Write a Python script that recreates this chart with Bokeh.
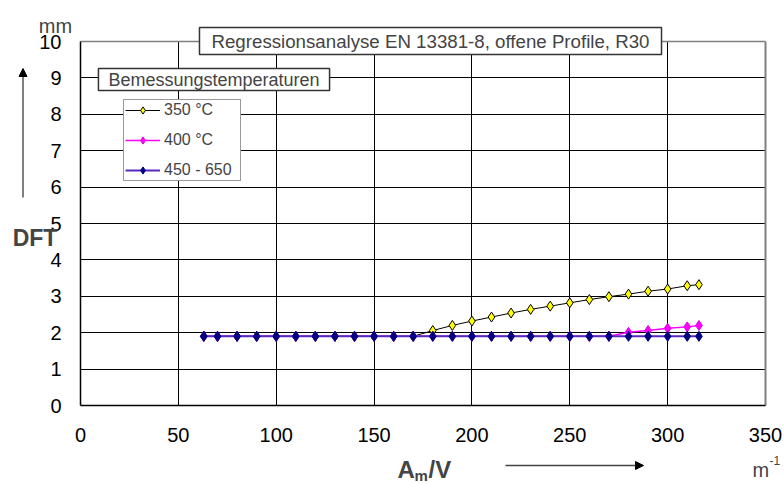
from bokeh.plotting import figure
from bokeh.models import (Range1d, FixedTicker, Label, Arrow, NormalHead,
                          Legend, LegendItem, LinearAxis, Grid)
from bokeh.embed import file_html
from bokeh.resources import INLINE

# ---- data ----
am_v = [63, 70, 80, 90, 100, 110, 120, 130, 140, 150, 160, 170, 180, 190,
        200, 210, 220, 230, 240, 250, 260, 270, 280, 290, 300, 310, 316]
dft_350 = [1.9, 1.9, 1.9, 1.9, 1.9, 1.9, 1.9, 1.9, 1.9, 1.9, 1.9, 1.9, 2.06,
           2.2, 2.32, 2.43, 2.54, 2.64, 2.73, 2.82, 2.91, 2.99, 3.06, 3.14,
           3.2, 3.29, 3.32]
dft_400 = [1.9, 1.9, 1.9, 1.9, 1.9, 1.9, 1.9, 1.9, 1.9, 1.9, 1.9, 1.9, 1.9,
           1.9, 1.9, 1.9, 1.9, 1.9, 1.9, 1.9, 1.9, 1.9, 2.01, 2.06, 2.12,
           2.16, 2.2]
dft_450_650 = [1.9] * 27
series_names = ["350 °C", "400 °C", "450 - 650"]
x_ticks = [0, 50, 100, 150, 200, 250, 300, 350]
y_ticks = [0, 1, 2, 3, 4, 5, 6, 7, 8, 9, 10]
inner_x = [50, 100, 150, 200, 250, 300]
inner_y = [1, 2, 3, 4, 5, 6, 7, 8, 9]

FONT = "Liberation Sans"
W, H = 784, 483
# plot area in canvas pixels
L, R, T, B = 80, 765, 41, 405
xs = (R - L) / 350.0
ys = (B - T) / 10.0

p = figure(width=W, height=H, output_backend="svg", toolbar_location=None,
           x_axis_type=None, y_axis_type=None,
           x_range=Range1d(-L / xs, 350 + (W - R) / xs),
           y_range=Range1d(-(H - B) / ys, 10 + T / ys),
           min_border=0, min_border_left=0, min_border_right=0,
           min_border_top=0, min_border_bottom=0)
p.background_fill_color = "white"
p.border_fill_color = "white"
p.outline_line_color = None

# grid lines limited to the plot area
p.add_layout(Grid(dimension=0, ticker=FixedTicker(ticks=inner_x),
                  bounds=(0, 350), cross_bounds=(0, 10),
                  grid_line_color="black", grid_line_width=1))
p.add_layout(Grid(dimension=1, ticker=FixedTicker(ticks=inner_y),
                  bounds=(0, 10), cross_bounds=(0, 350),
                  grid_line_color="black", grid_line_width=1))
p.add_layout(Grid(dimension=0, ticker=FixedTicker(ticks=[350]),
                  bounds=(0, 350), cross_bounds=(0, 10),
                  grid_line_color="#808080", grid_line_width=2))
p.add_layout(Grid(dimension=1, ticker=FixedTicker(ticks=[10]),
                  bounds=(0, 10), cross_bounds=(0, 350),
                  grid_line_color="#808080", grid_line_width=1.5))

xaxis = LinearAxis(fixed_location=0, bounds=(0, 350),
                   ticker=FixedTicker(ticks=x_ticks))
yaxis = LinearAxis(fixed_location=0, bounds=(0, 10),
                   ticker=FixedTicker(ticks=y_ticks))
for ax in (xaxis, yaxis):
    ax.major_tick_line_color = None
    ax.minor_tick_line_color = None
    ax.axis_line_color = "black"
    ax.axis_line_width = 1.5
    ax.major_label_text_font = FONT
    ax.major_label_text_font_size = "20px"
    ax.major_label_text_color = "black"
xaxis.major_label_standoff = 16
yaxis.major_label_standoff = 13
p.add_layout(xaxis, "below")
p.add_layout(yaxis, "left")

# series
l1 = p.line(am_v, dft_350, line_color="black", line_width=1)
s1 = p.scatter(am_v, dft_350, marker="diamond", size=10, fill_color="#FFFF00",
               line_color="black", line_width=1)
l2 = p.line(am_v, dft_400, line_color="#FF00FF", line_width=1.5)
s2 = p.scatter(am_v, dft_400, marker="diamond", size=10, fill_color="#FF00FF",
               line_color="#E000E0", line_width=1)
l3 = p.line(am_v, dft_450_650, line_color="#5a28c0", line_width=2)
s3 = p.scatter(am_v, dft_450_650, marker="diamond", size=10,
               fill_color="#000080", line_color="#000080", line_width=1)

legend = Legend(items=[LegendItem(label=series_names[0], renderers=[l1, s1]),
                       LegendItem(label=series_names[1], renderers=[l2, s2]),
                       LegendItem(label=series_names[2], renderers=[l3, s3])],
                location=(123, H - 181), orientation="vertical",
                label_text_font=FONT, label_text_font_size="16px",
                glyph_width=35, glyph_height=18, label_height=18,
                label_width=75, label_standoff=4, spacing=12, padding=1,
                margin=0, border_line_color="#333333", border_line_width=1.5,
                background_fill_color="white", background_fill_alpha=1)
p.add_layout(legend, "center")

# boxed titles
p.add_layout(Label(x=430, y=H - 40.5, x_units="screen", y_units="screen",
                   text="Regressionsanalyse EN 13381-8, offene Profile, R30",
                   text_font=FONT, text_font_size="18.7px",
                   text_align="center", text_baseline="middle",
                   background_fill_color="white",
                   border_line_color="#333333", border_line_width=1.5,
                   padding=(12, 3)))
p.add_layout(Label(x=213.5, y=H - 79, x_units="screen", y_units="screen",
                   text="Bemessungstemperaturen", text_font=FONT,
                   text_font_size="18px", text_align="center",
                   text_baseline="middle", background_fill_color="white",
                   border_line_color="#333333", border_line_width=1.5,
                   padding=(10, 1)))

# axis annotations
p.add_layout(Label(x=55, y=H - 25, x_units="screen", y_units="screen",
                   text="mm", text_font=FONT, text_font_size="20px",
                   text_align="center", text_baseline="alphabetic"))
p.add_layout(Label(x=34.5, y=H - 237, x_units="screen", y_units="screen",
                   text="DFT", text_font=FONT, text_font_size="23px",
                   text_font_style="bold", text_align="center",
                   text_baseline="middle"))
p.add_layout(Label(x=397, y=H - 469, x_units="screen", y_units="screen",
                   text="A", text_font=FONT, text_font_size="24px",
                   text_font_style="bold", text_align="left",
                   text_baseline="middle"))
p.add_layout(Label(x=414, y=H - 475, x_units="screen", y_units="screen",
                   text="m", text_font=FONT, text_font_size="15px",
                   text_font_style="bold", text_align="left",
                   text_baseline="middle"))
p.add_layout(Label(x=428, y=H - 469, x_units="screen", y_units="screen",
                   text="/V", text_font=FONT, text_font_size="24px",
                   text_font_style="bold", text_align="left",
                   text_baseline="middle"))
p.add_layout(Label(x=752, y=H - 469, x_units="screen", y_units="screen",
                   text="m", text_font=FONT, text_font_size="20px",
                   text_align="left", text_baseline="middle"))
p.add_layout(Label(x=769, y=H - 460, x_units="screen", y_units="screen",
                   text="-1", text_font=FONT, text_font_size="12px",
                   text_align="left", text_baseline="middle"))

p.add_layout(Arrow(x_start=22.5, y_start=H - 197, x_end=22.5, y_end=H - 68,
                   start_units="screen", end_units="screen",
                   line_color="black", line_width=1,
                   end=NormalHead(size=8, fill_color="black",
                                  line_color="black")))
p.add_layout(Arrow(x_start=505, y_start=H - 465, x_end=643, y_end=H - 465,
                   start_units="screen", end_units="screen",
                   line_color="#444444", line_width=1.5,
                   end=NormalHead(size=8, fill_color="black",
                                  line_color="black")))

open("out.html", "w").write(file_html(p, INLINE))
